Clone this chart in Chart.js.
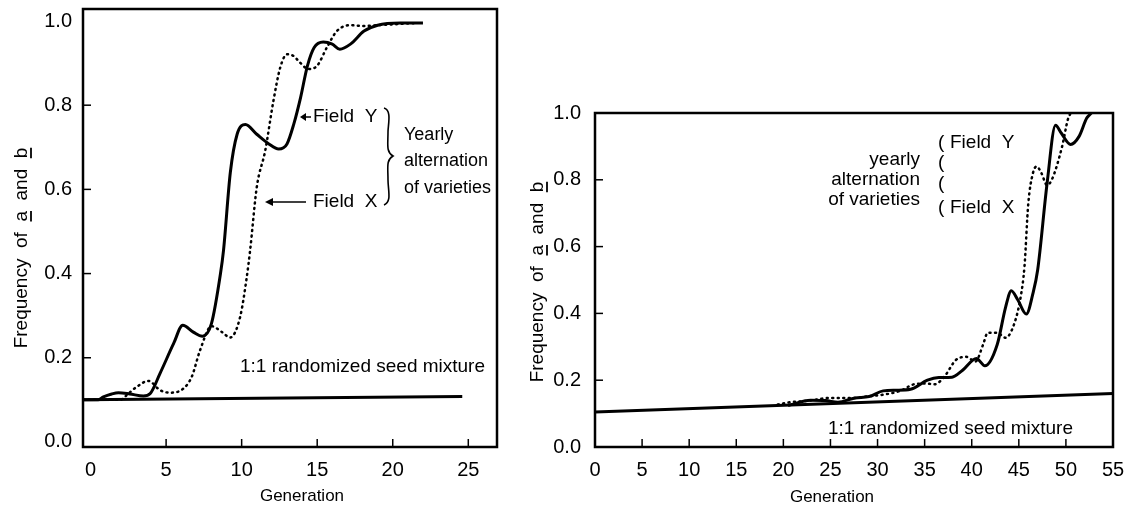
<!DOCTYPE html>
<html>
<head>
<meta charset="utf-8">
<script src="https://cdn.jsdelivr.net/npm/chart.js@4.4.0/dist/chart.umd.min.js"></script>
<style>
  body { margin: 0; background: #fff; width: 1134px; height: 510px; overflow: hidden; position: relative; }
  #leftChart { position: absolute; left: 0; top: 0; }
  #rightChart { position: absolute; left: 520px; top: 0; }
</style>
</head>
<body>
<canvas id="leftChart" width="520" height="510"></canvas>
<canvas id="rightChart" width="614" height="510"></canvas>
<script>
// ---- data ----
// left panel (25 generations)
const leftGenY = [-0.5, 0.5, 0.85, 1.4, 1.85, 2.6, 3.5, 3.95, 4.6, 5.5, 6.1, 6.8, 7.4, 8.0, 8.6, 8.8, 9.25, 9.7, 10.25, 11.0, 11.8, 12.45, 13.0, 13.45, 13.9, 14.35, 14.8, 15.4, 16.0, 16.5, 17.2, 18.1, 19.0, 20.5, 22.0];
const leftValY = [0.1, 0.1, 0.107, 0.114, 0.117, 0.114, 0.109, 0.115, 0.163, 0.234, 0.277, 0.261, 0.251, 0.281, 0.40, 0.455, 0.64, 0.731, 0.754, 0.731, 0.708, 0.696, 0.708, 0.755, 0.818, 0.893, 0.937, 0.95, 0.945, 0.933, 0.945, 0.976, 0.99, 0.995, 0.995];
const leftGenX = [-0.5, 1.0, 1.96, 2.5, 3.06, 3.83, 4.6, 5.26, 6.15, 6.7, 7.25, 8.0, 8.7, 9.24, 9.9, 10.34, 10.56, 11.0, 11.56, 12.1, 12.55, 13.0, 13.43, 13.87, 14.42, 14.98, 15.64, 16.3, 17.2, 18.07, 19.0, 21.5];
const leftValX = [0.1, 0.1, 0.1, 0.115, 0.131, 0.145, 0.123, 0.117, 0.127, 0.155, 0.218, 0.275, 0.261, 0.248, 0.297, 0.392, 0.455, 0.605, 0.692, 0.81, 0.889, 0.921, 0.917, 0.901, 0.886, 0.893, 0.937, 0.976, 0.99, 0.988, 0.99, 0.995];
const leftMixGen = [-0.5, 24.6];
const leftMixVal = [0.1, 0.108];

// right panel (55 generations)
const rightGenY = [20.5, 22.9, 24.5, 25.8, 27.6, 29.1, 30.6, 32.0, 33.5, 35.3, 36.5, 37.9, 39.0, 40.5, 41.4, 42.7, 43.6, 44.2, 44.9, 45.8, 46.5, 47.0, 48.0, 48.9, 49.5, 50.5, 51.4, 52.2, 52.7];
const rightValY = [0.124, 0.140, 0.139, 0.134, 0.147, 0.151, 0.168, 0.170, 0.173, 0.20, 0.208, 0.209, 0.229, 0.265, 0.243, 0.306, 0.419, 0.468, 0.44, 0.398, 0.46, 0.53, 0.789, 0.963, 0.94, 0.906, 0.93, 0.984, 1.0];
const rightGenX = [19.4, 20.7, 22.5, 25.1, 27.6, 29.0, 30.2, 32.4, 33.9, 35.0, 36.1, 37.2, 38.3, 39.4, 40.4, 41.2, 41.7, 42.7, 43.6, 44.5, 45.2, 45.6, 46.0, 46.5, 46.9, 47.4, 48.0, 48.5, 49.6, 50.2, 50.5];
const rightValX = [0.127, 0.134, 0.138, 0.147, 0.147, 0.152, 0.155, 0.168, 0.188, 0.19, 0.188, 0.215, 0.26, 0.27, 0.256, 0.306, 0.342, 0.342, 0.327, 0.368, 0.45, 0.54, 0.727, 0.82, 0.84, 0.82, 0.784, 0.80, 0.90, 0.98, 1.0];
const rightMixGen = [0, 55];
const rightMixVal = [0.105, 0.16];

// tick labels
const leftTicksX = [0, 5, 10, 15, 20, 25];
const rightTicksX = [0, 5, 10, 15, 20, 25, 30, 35, 40, 45, 50, 55];
const ticksY = [0, 0.2, 0.4, 0.6, 0.8, 1.0];

const FONT = "'Liberation Sans', Arial, sans-serif";

function pts(xs, ys) {
    return xs.map((x, i) => ({ x: x, y: ys[i] }));
}

function drawYTitle(ctx, cx, cy) {
    const parts = ["Frequency  of  ", "a", "  and  ", "b"];
    ctx.save();
    ctx.translate(cx, cy);
    ctx.rotate(-Math.PI / 2);
    ctx.font = "19px " + FONT;
    ctx.textBaseline = "alphabetic";
    ctx.textAlign = "left";
    const total = parts.reduce((s, p) => s + ctx.measureText(p).width, 0);
    let x = -total / 2;
    ctx.lineWidth = 1.8;
    parts.forEach((p, i) => {
        const w = ctx.measureText(p).width;
        ctx.fillText(p, x, 7);
        if (i === 1 || i === 3) {
            ctx.beginPath();
            ctx.moveTo(x, 11);
            ctx.lineTo(x + w, 11);
            ctx.stroke();
        }
        x += w;
    });
    ctx.restore();
}

// box, inward ticks and the notes around the curves
const decor = {
    id: "decor",
    afterDraw(chart, args, opts) {
        const ctx = chart.ctx;
        const a = chart.chartArea;
        const sx = chart.scales.x, sy = chart.scales.y;
        ctx.save();
        ctx.strokeStyle = "#000";
        ctx.fillStyle = "#000";
        ctx.lineWidth = 2.5;
        ctx.strokeRect(a.left, a.top, a.right - a.left, a.bottom - a.top);
        ctx.lineWidth = 1.5;
        opts.tickX.forEach(v => {
            const p = sx.getPixelForValue(v);
            ctx.beginPath(); ctx.moveTo(p, a.bottom); ctx.lineTo(p, a.bottom - 8); ctx.stroke();
        });
        [0.2, 0.4, 0.6, 0.8].forEach(v => {
            const p = sy.getPixelForValue(v);
            ctx.beginPath(); ctx.moveTo(a.left, p); ctx.lineTo(a.left + 8, p); ctx.stroke();
        });
        drawYTitle(ctx, opts.yTitle[0], opts.yTitle[1]);
        ctx.font = "17px " + FONT;
        ctx.textAlign = "center";
        ctx.textBaseline = "middle";
        ctx.fillText("Generation", opts.xTitle[0], opts.xTitle[1]);
        opts.texts.forEach(t => {
            ctx.font = (t[4] || 19) + "px " + FONT;
            ctx.textAlign = t[3] || "left";
            ctx.fillText(t[0], t[1], t[2]);
        });
        if (opts.extra) opts.extra(ctx);
        ctx.restore();
    }
};

function makeChart(id, cfg) {
    return new Chart(document.getElementById(id), {
        type: "line",
        data: {
            datasets: [
                { data: pts(cfg.genY, cfg.valY), borderColor: "#000", borderWidth: 3, pointRadius: 0, cubicInterpolationMode: "monotone", fill: false },
                { data: pts(cfg.genX, cfg.valX), borderColor: "#000", borderWidth: 2.5, borderDash: [1, 4.5], borderCapStyle: "round", pointRadius: 0, cubicInterpolationMode: "monotone", fill: false },
                { data: pts(cfg.mixGen, cfg.mixVal), borderColor: "#000", borderWidth: 3, pointRadius: 0, fill: false }
            ]
        },
        options: {
            responsive: false,
            animation: false,
            events: [],
            layout: { padding: cfg.padding },
            plugins: { legend: { display: false }, tooltip: { enabled: false }, decor: cfg.decor },
            scales: {
                x: {
                    type: "linear",
                    min: cfg.xMin, max: cfg.xMax,
                    afterBuildTicks: s => { s.ticks = cfg.ticksX.map(v => ({ value: v })); },
                    afterFit: s => { s.height = 510 - cfg.bottom; s.paddingLeft = 0; s.paddingRight = 0; },
                    grid: { display: false, drawTicks: false },
                    border: { display: false },
                    ticks: { color: "#000", font: { size: 20, family: FONT }, padding: 11, maxRotation: 0, autoSkip: false }
                },
                y: {
                    type: "linear",
                    min: cfg.yMin, max: cfg.yMax,
                    afterBuildTicks: s => { s.ticks = ticksY.map(v => ({ value: v })); },
                    afterFit: s => { s.width = cfg.left; s.paddingTop = 0; s.paddingBottom = 0; },
                    grid: { display: false, drawTicks: false },
                    border: { display: false },
                    ticks: { color: "#000", font: { size: 20, family: FONT }, padding: cfg.yPad, callback: v => v.toFixed(1) }
                }
            }
        },
        plugins: [decor]
    });
}

makeChart("leftChart", {
    genY: leftGenY, valY: leftValY, genX: leftGenX, valX: leftValX, mixGen: leftMixGen, mixVal: leftMixVal,
    ticksX: leftTicksX, xMin: -0.5, xMax: 26.9, yMin: -0.012, yMax: 1.0285,
    left: 83, bottom: 447, yPad: 11, padding: { left: 0, top: 9, right: 23, bottom: 0 },
    decor: {
        tickX: [5, 10, 15, 20, 25],
        yTitle: [20, 248], xTitle: [302, 496],
        texts: [
            ["Field  Y", 313, 117], ["Field  X", 313, 202],
            ["Yearly", 404, 135, "left", 18], ["alternation", 404, 161, "left", 18], ["of varieties", 404, 188, "left", 18],
            ["1:1 randomized seed mixture", 240, 367]
        ],
        extra: ctx => {
            // arrows
            ctx.lineWidth = 1.5;
            ctx.beginPath(); ctx.moveTo(311, 117); ctx.lineTo(302, 117); ctx.stroke();
            ctx.beginPath(); ctx.moveTo(300, 117); ctx.lineTo(306, 113); ctx.lineTo(306, 121); ctx.closePath(); ctx.fill();
            ctx.beginPath(); ctx.moveTo(306, 202); ctx.lineTo(268, 202); ctx.stroke();
            ctx.beginPath(); ctx.moveTo(265, 202); ctx.lineTo(273, 198); ctx.lineTo(273, 206); ctx.closePath(); ctx.fill();
            // brace
            ctx.lineWidth = 1.6;
            ctx.beginPath();
            ctx.moveTo(384, 108);
            ctx.bezierCurveTo(392, 110, 388, 125, 388, 132);
            ctx.bezierCurveTo(388, 145, 386, 152, 393, 156);
            ctx.bezierCurveTo(386, 160, 388, 167, 388, 180);
            ctx.bezierCurveTo(388, 190, 392, 202, 384, 205);
            ctx.stroke();
        }
    }
});

makeChart("rightChart", {
    genY: rightGenY, valY: rightValY, genX: rightGenX, valX: rightValX, mixGen: rightMixGen, mixVal: rightMixVal,
    ticksX: rightTicksX, xMin: 0, xMax: 55, yMin: 0, yMax: 1.0,
    left: 75, bottom: 447, yPad: 14, padding: { left: 0, top: 113, right: 21, bottom: 0 },
    decor: {
        tickX: [5, 10, 15, 20, 25, 30, 35, 40, 45, 50],
        yTitle: [16, 282], xTitle: [312, 497],
        texts: [
            ["(", 418, 143], ["Field  Y", 430, 143],
            ["(", 418, 163], ["(", 418, 184],
            ["(", 418, 208], ["Field  X", 430, 208],
            ["yearly", 400, 160, "right"], ["alternation", 400, 180, "right"], ["of varieties", 400, 200, "right"],
            ["1:1 randomized seed mixture", 308, 429]
        ]
    }
});
</script>
</body>
</html>
